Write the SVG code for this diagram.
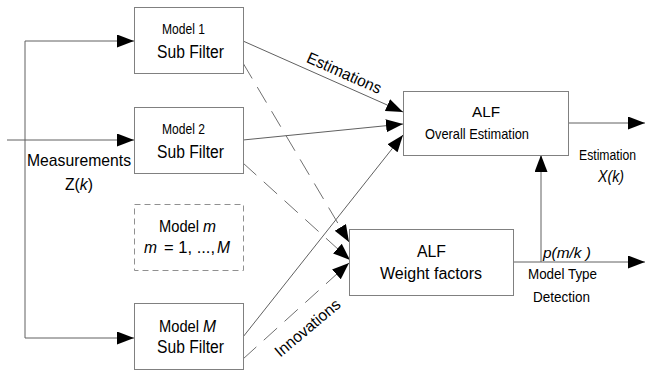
<svg xmlns="http://www.w3.org/2000/svg" width="645" height="374" viewBox="0 0 645 374">
<style>
text{font-family:"Liberation Sans",Arial,sans-serif;fill:#000}
.box{fill:#fff;stroke:#808080;stroke-width:1}
.dbox{fill:#fff;stroke:#909090;stroke-width:1;stroke-dasharray:6 4}
.ln{fill:none;stroke:#606060;stroke-width:1}
.dl{fill:none;stroke:#707070;stroke-width:1;stroke-dasharray:18 10}
.it{font-style:italic}
</style>
<defs>
<marker id="ah" markerUnits="userSpaceOnUse" markerWidth="18" markerHeight="14" refX="17" refY="6.5" orient="auto">
<path d="M0,0 L17,6.5 L0,13 z" fill="#000"/>
</marker>
</defs>
<g id="connectors">
<path class="ln" d="M7,140 H134" marker-end="url(#ah)"/>
<path class="ln" d="M25,41 V338"/>
<path class="ln" d="M25,41 H134" marker-end="url(#ah)"/>
<path class="ln" d="M25,338 H134" marker-end="url(#ah)"/>
<path class="ln" d="M243,41 L403,112" marker-end="url(#ah)"/>
<path class="ln" d="M243,140 L403,124" marker-end="url(#ah)"/>
<path class="ln" d="M243,337 L403,135" marker-end="url(#ah)"/>
<path class="dl" d="M243,63 L349,242" marker-end="url(#ah)"/>
<path class="dl" d="M243,163 L350,260" marker-end="url(#ah)"/>
<path class="dl" d="M243,359 L349,263" marker-end="url(#ah)"/>
<path class="ln" d="M568,123 H645" marker-end="url(#ah)"/>
<path class="ln" d="M513,262 H645" marker-end="url(#ah)"/>
<path class="ln" d="M541,262 V155" marker-end="url(#ah)"/>
<text x="0" y="0" font-size="16" transform="translate(342,78) rotate(24)" text-anchor="middle" textLength="80" lengthAdjust="spacingAndGlyphs">Estimations</text>
<text x="0" y="0" font-size="16" transform="translate(311,332) rotate(-40)" text-anchor="middle" textLength="80" lengthAdjust="spacingAndGlyphs">Innovations</text>
<text x="27" y="166" font-size="17" textLength="104" lengthAdjust="spacingAndGlyphs">Measurements</text>
<text x="65" y="190" font-size="17" textLength="28" lengthAdjust="spacingAndGlyphs">Z(<tspan class="it">k</tspan>)</text>
<text x="579" y="160" font-size="14" textLength="57" lengthAdjust="spacingAndGlyphs">Estimation</text>
<text x="598" y="182" font-size="16" class="it" textLength="26" lengthAdjust="spacingAndGlyphs">X(k)</text>
<text x="543" y="258" font-size="15" class="it" textLength="48" lengthAdjust="spacingAndGlyphs">p(m/k )</text>
<text x="528" y="279" font-size="15.5" textLength="69" lengthAdjust="spacingAndGlyphs">Model Type</text>
<text x="533" y="302" font-size="15.5" textLength="57" lengthAdjust="spacingAndGlyphs">Detection</text>
</g>
<g id="model1">
<rect class="box" x="134.5" y="7.5" width="109" height="66"/>
<text x="162" y="34" font-size="15.5" textLength="43" lengthAdjust="spacingAndGlyphs">Model 1</text>
<text x="157" y="58" font-size="18" textLength="67" lengthAdjust="spacingAndGlyphs">Sub Filter</text>
</g>
<g id="model2">
<rect class="box" x="134.5" y="107.5" width="109" height="66"/>
<text x="162" y="134" font-size="15.5" textLength="43" lengthAdjust="spacingAndGlyphs">Model 2</text>
<text x="157" y="158" font-size="18" textLength="67" lengthAdjust="spacingAndGlyphs">Sub Filter</text>
</g>
<g id="modelm">
<rect class="dbox" x="134.5" y="204.5" width="109" height="66"/>
<text x="159" y="232" font-size="16" textLength="40" lengthAdjust="spacingAndGlyphs">Model</text>
<text x="203" y="232" font-size="16" class="it" textLength="13" lengthAdjust="spacingAndGlyphs">m</text>
<text x="144" y="253" font-size="16" class="it" textLength="13" lengthAdjust="spacingAndGlyphs">m</text>
<text x="164" y="253" font-size="16" textLength="51" lengthAdjust="spacingAndGlyphs">= 1, ...,</text>
<text x="217" y="253" font-size="16" class="it" textLength="13" lengthAdjust="spacingAndGlyphs">M</text>
</g>
<g id="modelM">
<rect class="box" x="134.5" y="303.5" width="109" height="66"/>
<text x="159" y="332" font-size="16" textLength="40" lengthAdjust="spacingAndGlyphs">Model</text>
<text x="203" y="332" font-size="16" class="it" textLength="13" lengthAdjust="spacingAndGlyphs">M</text>
<text x="157" y="353" font-size="18" textLength="67" lengthAdjust="spacingAndGlyphs">Sub Filter</text>
</g>
<g id="alf-overall">
<rect class="box" x="403.5" y="91.5" width="165" height="64"/>
<text x="472" y="117" font-size="15.5" textLength="28" lengthAdjust="spacingAndGlyphs">ALF</text>
<text x="425" y="139" font-size="15" textLength="104" lengthAdjust="spacingAndGlyphs">Overall Estimation</text>
</g>
<g id="alf-weight">
<rect class="box" x="349.5" y="229.5" width="164" height="66"/>
<text x="417" y="257" font-size="16" textLength="29" lengthAdjust="spacingAndGlyphs">ALF</text>
<text x="380" y="279" font-size="16" textLength="102" lengthAdjust="spacingAndGlyphs">Weight factors</text>
</g>
</svg>
